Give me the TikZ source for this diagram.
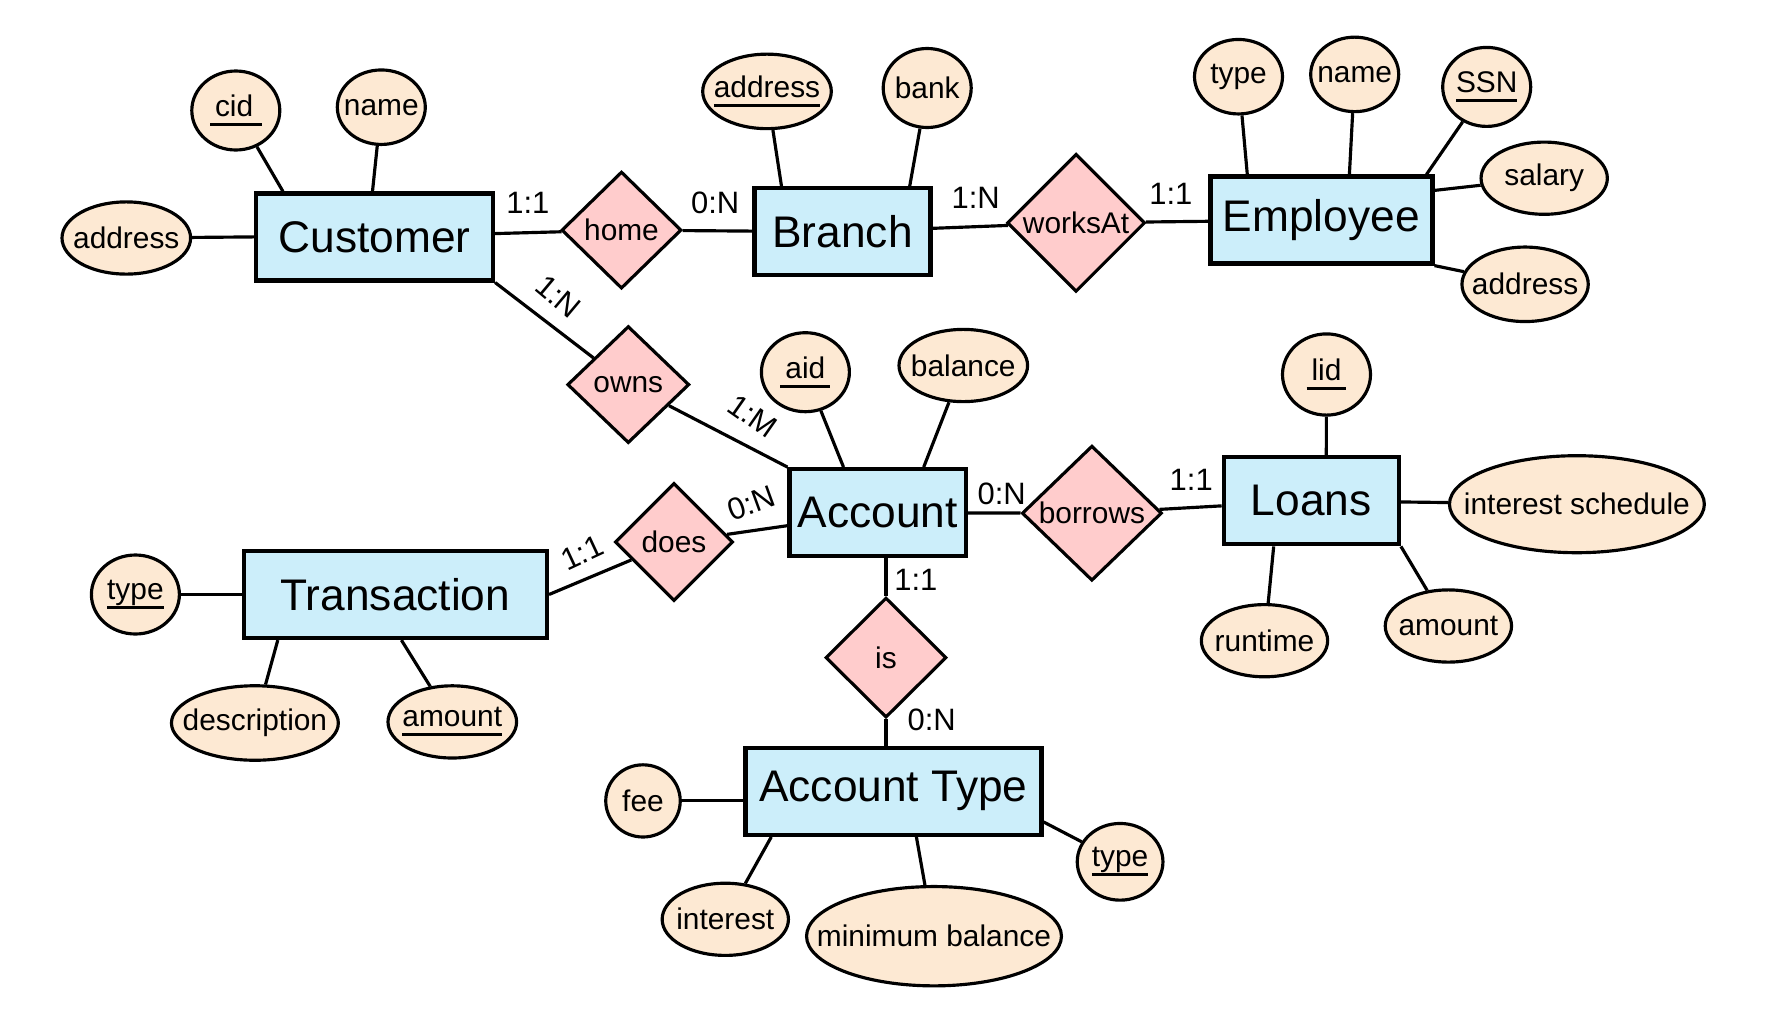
\documentclass[tikz,border=0pt]{standalone}
\usepackage{fontspec}
\setmainfont{Liberation Sans}
\usetikzlibrary{shapes.geometric}
\definecolor{entblue}{RGB}{204,238,250}
\definecolor{relpink}{RGB}{255,204,204}
\definecolor{attpeach}{RGB}{253,233,211}
\newcommand{\attxt}[1]{\makebox[0pt]{#1}}
\newcommand{\pkey}[1]{\setbox0\hbox{#1}\rlap{\rule[-2.8pt]{\wd0}{0.9pt}}\box0}
\tikzset{
	entity/.style={draw, line width=1.2pt, fill=entblue, minimum height=0.87cm, inner sep=0pt, font=\fontsize{12.6}{15}\selectfont},
	relation/.style={diamond, draw, line width=0.9pt, fill=relpink, inner sep=0pt, font=\fontsize{8.5}{10}\selectfont},
	attrib/.style={ellipse, draw, line width=0.9pt, fill=attpeach, inner sep=0pt, font=\fontsize{8.5}{10}\selectfont},
	card/.style={inner sep=0pt, font=\fontsize{8.8}{10}\selectfont},
	link/.style={line width=0.9pt}
}
\begin{document}
\begin{tikzpicture}
	\useasboundingbox (0,0) rectangle (17.69,-10.33);
	\node[entity, minimum width=2.37cm] (customer) at (3.745,-2.369) {Customer};
	\node[entity, minimum width=1.76cm] (branch) at (8.426,-2.318) {Branch};
	\node[entity, minimum width=2.22cm] (employee) at (13.214,-2.200) {Employee};
	\node[entity, minimum width=1.76cm] (account) at (8.776,-5.127) {Account};
	\node[entity, minimum width=1.75cm] (loans) at (13.113,-5.008) {Loans};
	\node[entity, minimum width=3.03cm] (transaction) at (3.954,-5.945) {Transaction};
	\node[entity, minimum width=2.96cm] (accttype) at (8.934,-7.913) {Account Type};
	\node[relation, minimum width=1.2cm, minimum height=1.17cm] (home) at (6.215,-2.301) {home};
	\node[relation, minimum width=1.38cm, minimum height=1.38cm] (worksat) at (10.761,-2.228) {worksAt};
	\node[relation, minimum width=1.22cm, minimum height=1.17cm] (owns) at (6.283,-3.846) {owns};
	\node[relation, minimum width=1.18cm, minimum height=1.18cm] (does) at (6.74,-5.42) {does};
	\node[relation, minimum width=1.40cm, minimum height=1.35cm] (borrows) at (10.919,-5.132) {borrows};
	\node[relation, minimum width=1.21cm, minimum height=1.20cm] (is) at (8.86,-6.576) {is};
	\node[attrib, minimum width=0.88cm, minimum height=0.79cm] (cid) at (2.358,-1.105) {\attxt{\pkey{\,cid\;}}};
	\node[attrib, minimum width=0.88cm, minimum height=0.745cm] (cname) at (3.813,-1.072) {\attxt{name}};
	\node[attrib, minimum width=1.286cm, minimum height=0.722cm] (caddress) at (1.263,-2.380) {\attxt{address}};
	\node[attrib, minimum width=1.286cm, minimum height=0.745cm] (baddress) at (7.670,-0.914) {\attxt{\pkey{address}}};
	\node[attrib, minimum width=0.88cm, minimum height=0.79cm] (bank) at (9.272,-0.880) {\attxt{bank}};
	\node[attrib, minimum width=0.88cm, minimum height=0.745cm] (etype) at (12.385,-0.767) {\attxt{type}};
	\node[attrib, minimum width=0.88cm, minimum height=0.745cm] (ename) at (13.547,-0.744) {\attxt{name}};
	\node[attrib, minimum width=0.88cm, minimum height=0.79cm] (ssn) at (14.867,-0.869) {\attxt{\pkey{SSN}}};
	\node[attrib, minimum width=1.263cm, minimum height=0.722cm] (salary) at (15.442,-1.782) {\attxt{salary}};
	\node[attrib, minimum width=1.263cm, minimum height=0.745cm] (eaddress) at (15.251,-2.843) {\attxt{address}};
	\node[attrib, minimum width=0.88cm, minimum height=0.79cm] (aid) at (8.054,-3.722) {\attxt{\pkey{\,aid\,}}};
	\node[attrib, minimum width=1.286cm, minimum height=0.722cm] (balance) at (9.633,-3.655) {\attxt{balance}};
	\node[attrib, minimum width=0.88cm, minimum height=0.812cm] (lid) at (13.265,-3.745) {\attxt{\pkey{\,lid\,}}};
	\node[attrib, minimum width=2.549cm, minimum height=0.97cm] (isched) at (15.769,-5.042) {\attxt{interest schedule}};
	\node[attrib, minimum width=1.263cm, minimum height=0.722cm] (runtime) at (12.645,-6.407) {\attxt{runtime}};
	\node[attrib, minimum width=1.263cm, minimum height=0.722cm] (lamount) at (14.484,-6.260) {\attxt{amount}};
	\node[attrib, minimum width=0.88cm, minimum height=0.79cm] (ttype) at (1.354,-5.945) {\attxt{\pkey{type}}};
	\node[attrib, minimum width=1.669cm, minimum height=0.745cm] (descr) at (2.549,-7.230) {\attxt{description}};
	\node[attrib, minimum width=1.286cm, minimum height=0.722cm] (tamount) at (4.523,-7.219) {\attxt{\pkey{amount}}};
	\node[attrib, minimum width=0.745cm, minimum height=0.722cm] (fee) at (6.430,-8.009) {\attxt{fee}};
	\node[attrib, minimum width=1.263cm, minimum height=0.722cm] (interest) at (7.253,-9.193) {\attxt{interest}};
	\node[attrib, minimum width=2.549cm, minimum height=0.993cm] (minbal) at (9.340,-9.362) {\attxt{minimum balance}};
	\node[attrib, minimum width=0.857cm, minimum height=0.767cm] (atype) at (11.201,-8.618) {\attxt{\pkey{type}}};
	\draw[link] (cid) -- ([xshift=0.29cm]customer.north west);
	\draw[link] (cname) -- ([xshift=-0.02cm]customer.north);
	\draw[link] (caddress) -- (customer.west);
	\draw[link] (customer) -- (home);
	\draw[link] (home) -- (branch);
	\draw[link] (branch) -- (worksat);
	\draw[link] (worksat) -- (employee);
	\draw[link] (customer.south east) -- (owns);
	\draw[link] (owns) -- (account.north west);
	\draw[link] (baddress) -- ([xshift=0.29cm]branch.north west);
	\draw[link] (bank) -- ([xshift=-0.23cm]branch.north east);
	\draw[link] (etype) -- ([xshift=0.39cm]employee.north west);
	\draw[link] (ename) -- ([xshift=0.28cm]employee.north);
	\draw[link] (ssn) -- ([xshift=-0.08cm]employee.north east);
	\draw[link] (salary) -- ([yshift=-0.16cm]employee.north east);
	\draw[link] (eaddress) -- (employee.south east);
	\draw[link] (aid) -- ([xshift=0.56cm]account.north west);
	\draw[link] (balance) -- ([xshift=-0.44cm]account.north east);
	\draw[link] (account) -- (borrows);
	\draw[link] (borrows) -- (loans);
	\draw[link] (does) -- (account);
	\draw[link] (transaction.east) -- (does);
	\draw[link] (is.north) -- (is.north |- account.south);
	\draw[link] (is.south) -- (is.south |- accttype.north);
	\draw[link] (lid) -- ([xshift=0.15cm]loans.north);
	\draw[link] (loans) -- (isched);
	\draw[link] (runtime) -- ([xshift=0.52cm]loans.south west);
	\draw[link] (lamount) -- (loans.south east);
	\draw[link] (ttype) -- (transaction.west);
	\draw[link] (descr) -- ([xshift=0.36cm]transaction.south west);
	\draw[link] (tamount) -- ([xshift=0.06cm]transaction.south);
	\draw[link] (fee) -- (fee -| accttype.west);
	\draw[link] (interest) -- ([xshift=0.28cm]accttype.south west);
	\draw[link] (minbal) -- ([xshift=0.23cm]accttype.south);
	\draw[link] (atype) -- ([yshift=0.15cm]accttype.south east);
	\node[card] (chome) at (5.279,-2.030) {1:1};
	\node[card] (bhome) at (7.152,-2.030) {0:N};
	\node[card, rotate=-40] (cowns) at (5.584,-2.967) {1:N};
	\node[card, rotate=-35] (aowns) at (7.524,-4.162) {1:M};
	\node[card] (bworks) at (9.757,-1.974) {1:N};
	\node[card] (eworks) at (11.709,-1.940) {1:1};
	\node[card, rotate=20] (adoes) at (7.512,-5.031) {0:N};
	\node[card, rotate=25] (tdoes) at (5.820,-5.527) {1:1};
	\node[card] (aborrows) at (10.017,-4.941) {0:N};
	\node[card] (lborrows) at (11.912,-4.794) {1:1};
	\node[card] (ais) at (9.159,-5.798) {1:1};
	\node[card] (tis) at (9.317,-7.197) {0:N};
\end{tikzpicture}
\end{document}
